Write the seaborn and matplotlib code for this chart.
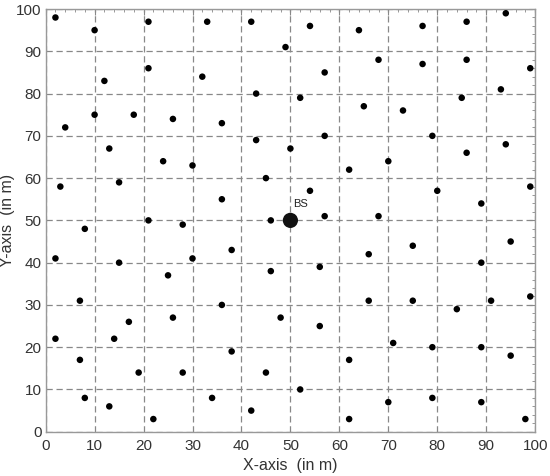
import matplotlib
matplotlib.use("Agg")
import matplotlib.pyplot as plt
from matplotlib.ticker import MultipleLocator
import seaborn as sns
import pandas as pd

x_users = [2, 10, 21, 33, 42, 54, 64, 77, 86, 94,
           49, 12, 21, 32, 43, 52, 57, 68, 77, 86, 99, 93, 85,
           79, 73, 65, 4, 10, 18, 26, 36, 43, 50, 57, 13,
           24, 30, 45, 62, 70, 86, 94, 3, 15, 36, 54, 80, 99, 89,
           21, 28, 8, 46, 57, 68, 2, 15, 30, 25, 38, 46, 56, 66, 75, 95, 89,
           7, 36, 66, 75, 91, 99, 84, 2, 14, 17, 26, 48, 56,
           7, 19, 28, 38, 45, 62, 71, 79, 89, 95,
           8, 13, 22, 34, 42, 52, 62, 70, 79, 89, 98]
y_users = [98, 95, 97, 97, 97, 96, 95, 96, 97, 99,
           91, 83, 86, 84, 80, 79, 85, 88, 87, 88, 86, 81, 79,
           70, 76, 77, 72, 75, 75, 74, 73, 69, 67, 70, 67,
           64, 63, 60, 62, 64, 66, 68, 58, 59, 55, 57, 57, 58, 54,
           50, 49, 48, 50, 51, 51, 41, 40, 41, 37, 43, 38, 39, 42, 44, 45, 40,
           31, 30, 31, 31, 31, 32, 29, 22, 22, 26, 27, 27, 25,
           17, 14, 14, 19, 14, 17, 21, 20, 20, 18,
           8, 6, 3, 8, 5, 10, 3, 7, 8, 7, 3]
bs_x = [50]
bs_y = [50]
bs_label = "BS"
ticks = [0, 10, 20, 30, 40, 50, 60, 70, 80, 90, 100]
x_label = "X-axis  (in m)"
y_label = "Y-axis  (in m)"

sns.set_style("white")
plt.rcParams['font.family'] = ['Liberation Sans', 'DejaVu Sans']

df = pd.DataFrame({"x": x_users, "y": y_users})
bs = pd.DataFrame({"x": bs_x, "y": bs_y})

fig = plt.figure(figsize=(5.5, 4.76), dpi=100)
ax = fig.add_axes([0.083, 0.093, 0.89, 0.888])

sns.scatterplot(data=df, x="x", y="y", ax=ax, color="black", s=22,
                edgecolor="none", zorder=3)
sns.scatterplot(data=bs, x="x", y="y", ax=ax, color="#111111", s=120,
                edgecolor="none", zorder=4)
ax.text(bs_x[0] + 0.5, bs_y[0] + 3.2, bs_label, fontsize=8, color="#222222")

ax.set_xlim(0, 100)
ax.set_ylim(0, 100)
ax.set_xticks(ticks)
ax.set_yticks(ticks)
ax.xaxis.set_minor_locator(MultipleLocator(2))
ax.yaxis.set_minor_locator(MultipleLocator(2))
ax.tick_params(which="both", direction="in", top=True, right=True,
               color="#888888", labelsize=11, labelcolor="#333333")
ax.tick_params(axis="x", which="major", pad=5)
ax.tick_params(axis="y", which="major", pad=3)
ax.tick_params(which="major", length=4)
ax.tick_params(which="minor", length=2.5)
ax.grid(True, which="major", linestyle=(0, (5, 3)), color="#888888", linewidth=0.9)
for s in ax.spines.values():
    s.set_color("#999999")
    s.set_linewidth(1.0)

ax.set_xlabel(x_label, fontsize=11.5, color="#333333")
ax.set_ylabel(y_label, fontsize=11.5, color="#333333")
ax.xaxis.set_label_coords(0.5, -0.062)
ax.yaxis.set_label_coords(-0.063, 0.5)

fig.savefig("out.png", dpi=100)
